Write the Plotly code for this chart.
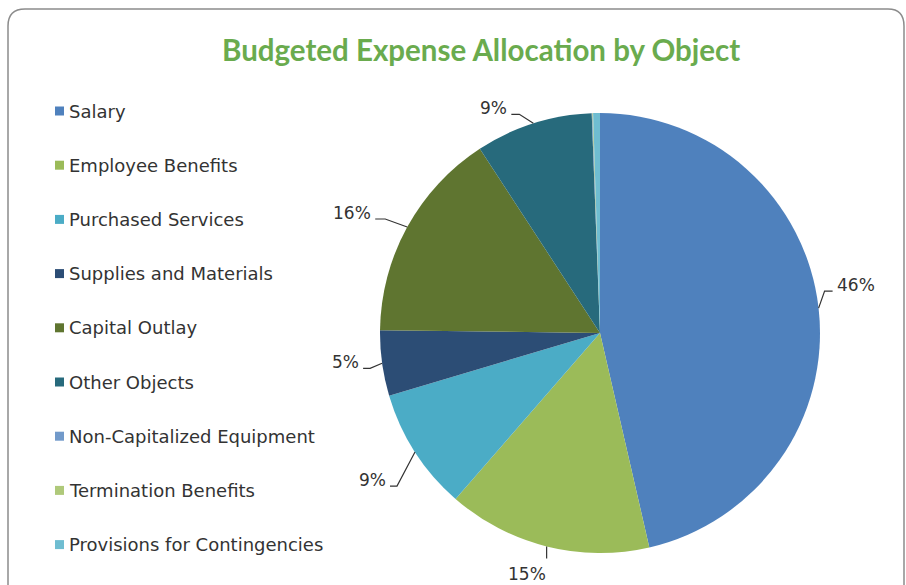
import math
import plotly.graph_objects as go

# Budget shares by expense object (percent of total)
categories = [
    "Salary",
    "Employee Benefits",
    "Purchased Services",
    "Supplies and Materials",
    "Capital Outlay",
    "Other Objects",
    "Non-Capitalized Equipment",
    "Termination Benefits",
    "Provisions for Contingencies",
]
shares = [46.4, 15.0, 9.0, 4.8, 15.6, 8.6, 0.05, 0.05, 0.5]

colors = ["#4F81BD", "#9BBB59", "#4BACC6", "#2C4D75", "#5F7530",
          "#276A7C", "#729ACA", "#AFC97A", "#6FBDD1"]

W, H = 906, 585
CX, CY, R = 600, 333, 220


def px(x):
    return x / W


def py(y):
    return 1 - y / H


fig = go.Figure(go.Pie(
    labels=categories,
    values=shares,
    sort=False,
    direction="clockwise",
    rotation=0,
    marker=dict(colors=colors, line=dict(width=0)),
    textinfo="none",
    hoverinfo="label+percent",
    showlegend=False,
    domain=dict(x=[px(CX - R), px(CX + R)], y=[py(CY + R), py(CY - R)]),
))

# Leader-line geometry per labelled slice: elbow offset from the slice edge,
# then a short horizontal run (sign gives the side the label sits on)
leaders = [(6, -17, 8), (0, 12, 0), (-18, 34, -7), (-12, 5, -7), (-22, -8, -10), (-14, -9, -8)]
label_font = dict(family="DejaVu Sans, Arial", size=17, color="#333")

total = sum(shares)
annotations = []
shapes = []
cum = 0.0
for i, v in enumerate(shares):
    frac = v / total
    mid = (cum + frac / 2) * 2 * math.pi
    cum += frac
    if frac < 0.02:
        continue
    ex = CX + R * math.sin(mid)
    ey = CY - R * math.cos(mid)
    dx, dy, run = leaders[i]
    bx, by = ex + dx, ey + dy
    fx, fy = bx + run, by
    shapes.append(dict(
        type="path", xref="paper", yref="paper",
        path=f"M {px(ex)},{py(ey)} L {px(bx)},{py(by)} L {px(fx)},{py(fy)}",
        line=dict(color="#333", width=1.2),
    ))
    text = f"{round(frac * 100)}%"
    if run == 0:
        ann = dict(x=px(fx + 1), y=py(fy + 16), xanchor="right")
    elif run > 0:
        ann = dict(x=px(fx + 2), y=py(fy - 6), xanchor="left")
    else:
        ann = dict(x=px(fx - 2), y=py(fy - 6), xanchor="right")
    ann.update(xref="paper", yref="paper", text=text, showarrow=False,
               yanchor="middle", font=label_font)
    annotations.append(ann)

# Legend drawn on the left: colour squares plus names
leg_top, leg_step = 111, 54.2
for i, (name, c) in enumerate(zip(categories, colors)):
    yc = leg_top + i * leg_step
    shapes.append(dict(type="rect", xref="paper", yref="paper",
                       x0=px(55), x1=px(64), y0=py(yc + 4.5), y1=py(yc - 4.5),
                       fillcolor=c, line=dict(width=0)))
    annotations.append(dict(
        x=px(67), y=py(yc), xref="paper", yref="paper",
        text=name, showarrow=False, xanchor="left", yanchor="middle",
        font=dict(family="DejaVu Sans, Arial", size=18, color="#333"),
    ))

# Chart title
annotations.append(dict(
    x=px(481), y=py(49), xref="paper", yref="paper",
    text="<b>Budgeted Expense Allocation by Object</b>",
    showarrow=False, xanchor="center", yanchor="middle",
    font=dict(family="Lato, Open Sans", size=29.5, color="#6AAB4E"),
))

# Rounded chart frame
frame = (f"M {px(8)},{py(620)} L {px(8)},{py(26)} "
         f"Q {px(8)},{py(9)} {px(25)},{py(9)} "
         f"L {px(888)},{py(9)} Q {px(904)},{py(9)} {px(904)},{py(26)} "
         f"L {px(904)},{py(620)}")
shapes.append(dict(type="path", xref="paper", yref="paper", path=frame,
                   line=dict(color="#8C8C8C", width=1.5)))

fig.update_layout(
    width=W, height=H,
    margin=dict(l=0, r=0, t=0, b=0),
    paper_bgcolor="white",
    plot_bgcolor="white",
    annotations=annotations,
    shapes=shapes,
)

fig.write_html("out.html")
